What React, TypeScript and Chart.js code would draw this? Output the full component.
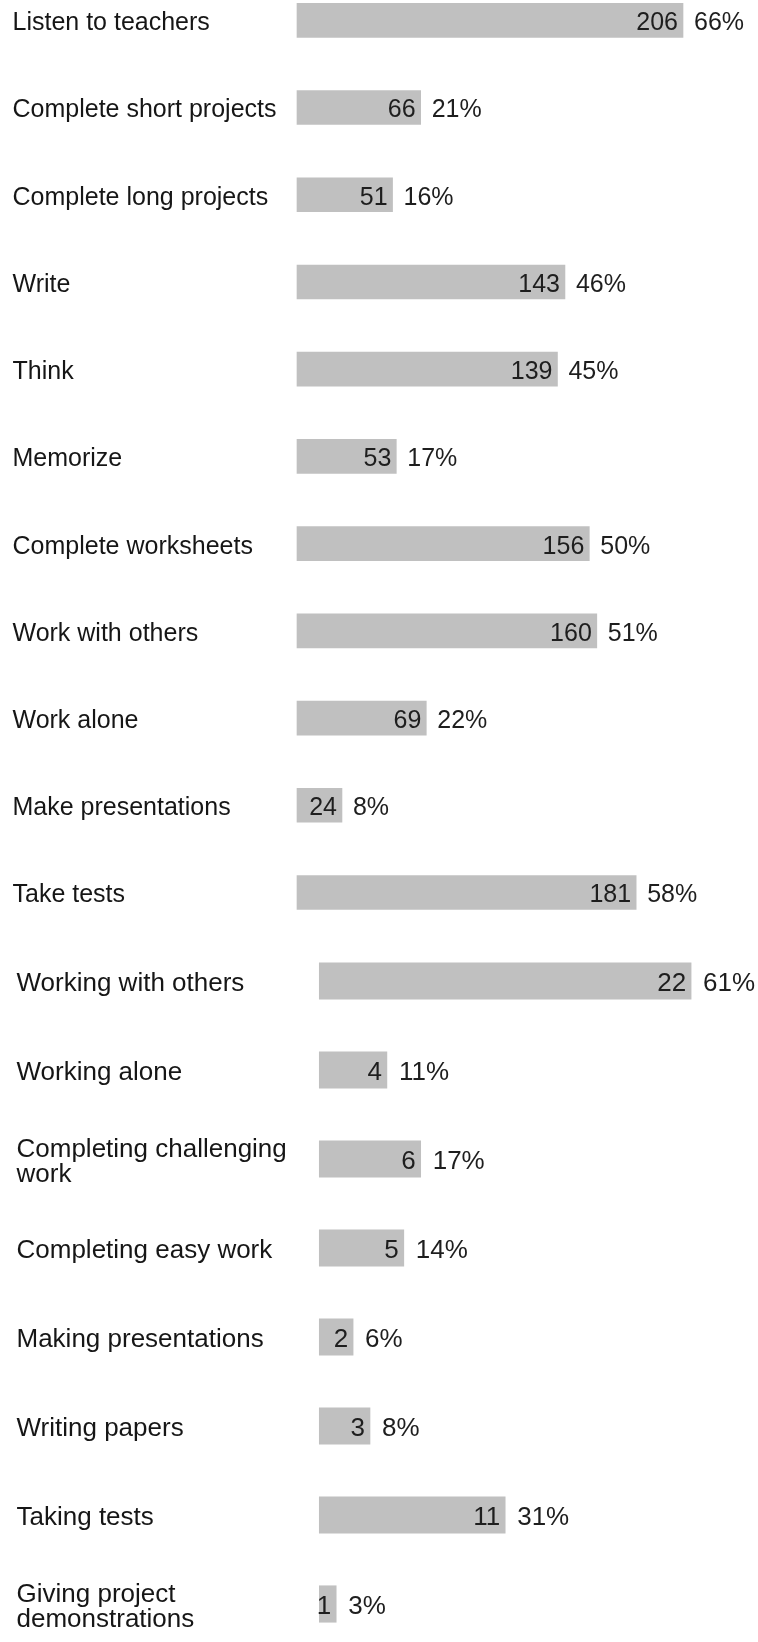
import React, { useEffect, useRef } from 'react';
import { Chart, registerables } from 'chart.js';

Chart.register(...registerables);

// Group 1: activities
const activityLabels: (string | string[])[] = [
  'Listen to teachers',
  'Complete short projects',
  'Complete long projects',
  'Write',
  'Think',
  'Memorize',
  'Complete worksheets',
  'Work with others',
  'Work alone',
  'Make presentations',
  'Take tests',
];
const activityCounts = [206, 66, 51, 143, 139, 53, 156, 160, 69, 24, 181];
const activityPercents = ['66%', '21%', '16%', '46%', '45%', '17%', '50%', '51%', '22%', '8%', '58%'];

// Group 2: preferences
const preferLabels: (string | string[])[] = [
  'Working with others',
  'Working alone',
  ['Completing challenging', 'work'],
  'Completing easy work',
  'Making presentations',
  'Writing papers',
  'Taking tests',
  ['Giving project', 'demonstrations'],
];
const preferCounts = [22, 4, 6, 5, 2, 3, 11, 1];
const preferPercents = ['61%', '11%', '17%', '14%', '6%', '8%', '31%', '3%'];

const FONT = "'Liberation Sans', Arial, Helvetica, sans-serif";

type PanelProps = {
  labels: (string | string[])[];
  counts: number[];
  percents: string[];
  width: number;
  height: number;
  padTop: number;
  padBottom: number;
  padLeft: number;
  axisWidth: number;
  xMax: number;
  barThickness: number;
  fontSize: number;
  lineGap: number;
  pctGap: number;
};

function BarPanel(p: PanelProps) {
  const ref = useRef<HTMLCanvasElement | null>(null);

  useEffect(() => {
    if (!ref.current) return;
    const DY = 3;
    const textPlugin = {
      id: 'textPlugin',
      afterDatasetsDraw(chart: any) {
        const ctx = chart.ctx;
        const meta = chart.getDatasetMeta(0);
        const yScale = chart.scales.y;
        ctx.save();
        ctx.font = `${p.fontSize}px ${FONT}`;
        ctx.textBaseline = 'middle';
        // category labels (left-aligned), taken from the category scale
        ctx.fillStyle = '#161616';
        ctx.textAlign = 'left';
        const labels = chart.data.labels as (string | string[])[];
        labels.forEach((lab, i) => {
          const lines = Array.isArray(lab) ? lab : [lab];
          const cy = yScale.getPixelForTick(i) + DY;
          const start = cy - ((lines.length - 1) * p.lineGap) / 2;
          lines.forEach((ln, k) => ctx.fillText(ln, p.padLeft, start + k * p.lineGap));
        });
        // value labels
        ctx.fillStyle = '#1e1e1e';
        meta.data.forEach((el: any, i: number) => {
          ctx.textAlign = 'right';
          ctx.fillText(String(p.counts[i]), el.x - 5, el.y + DY);
          ctx.textAlign = 'left';
          ctx.fillText(p.percents[i], el.x + p.pctGap, el.y + DY);
        });
        ctx.restore();
      },
    };

    const chart = new Chart(ref.current, {
      type: 'bar',
      data: {
        labels: p.labels as any,
        datasets: [
          {
            data: p.counts,
            backgroundColor: '#c0c0c0',
            borderWidth: 0,
            barThickness: p.barThickness,
            clip: false as any,
          },
        ],
      },
      options: {
        indexAxis: 'y',
        responsive: false,
        animation: false,
        devicePixelRatio: 1,
        layout: {
          padding: { top: p.padTop, bottom: p.padBottom, left: p.padLeft, right: 0 },
        },
        plugins: {
          legend: { display: false },
          tooltip: { enabled: false },
        },
        scales: {
          x: {
            display: false,
            min: 0,
            max: p.xMax,
          },
          y: {
            offset: false,
            grid: { display: false },
            border: { display: false },
            afterFit(scale: any) {
              scale.width = p.axisWidth;
            },
            ticks: {
              display: false,
              autoSkip: false,
            },
          },
        },
      },
      plugins: [textPlugin],
    });
    return () => chart.destroy();
  }, []);

  return <canvas ref={ref} width={p.width} height={p.height} style={{ display: 'block' }} />;
}

export default function App() {
  return (
    <div style={{ position: 'absolute', left: 0, top: 0, width: 758, background: '#fff' }}>
      <BarPanel
        labels={activityLabels}
        counts={activityCounts}
        percents={activityPercents}
        width={758}
        height={940}
        padTop={20.3}
        padBottom={940 - 892.5}
        padLeft={12.5}
        axisWidth={297 - 12.5}
        xMax={461 / (386 / 206)}
        barThickness={34}
        fontSize={25}
        lineGap={25}
        pctGap={11}
      />
      <BarPanel
        labels={preferLabels}
        counts={preferCounts}
        percents={preferPercents}
        width={758}
        height={702}
        padTop={981 - 940}
        padBottom={702 - (1604 - 940)}
        padLeft={16.5}
        axisWidth={319.3 - 16.5}
        xMax={438.7 / 16.9}
        barThickness={36.5}
        fontSize={26}
        lineGap={25}
        pctGap={12}
      />
    </div>
  );
}
